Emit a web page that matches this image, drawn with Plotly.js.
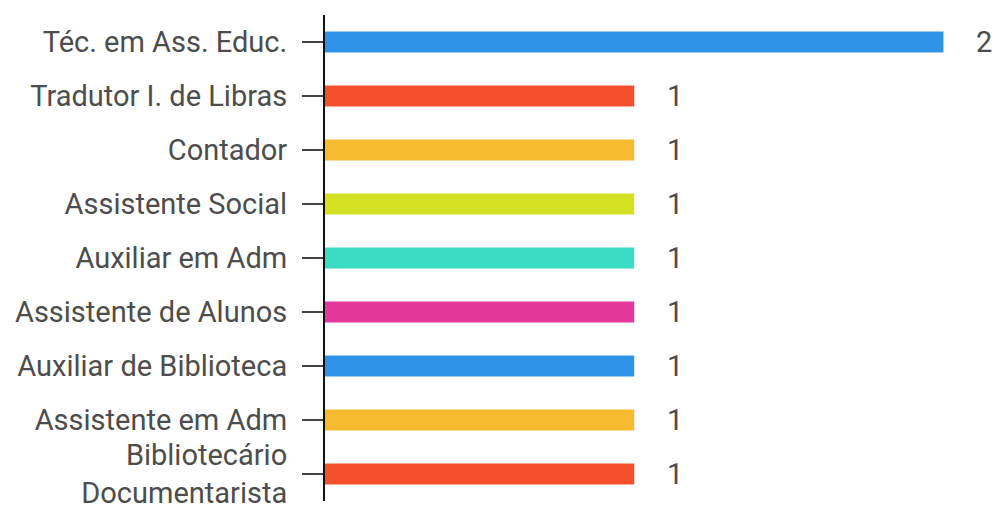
<!DOCTYPE html>
<html>
<head>
<meta charset="utf-8">
<script src="https://cdn.plot.ly/plotly-3.0.1.min.js"></script>
<style>html,body{margin:0;padding:0;background:#fff;}#chart{width:996px;height:509px;}</style>
</head>
<body>
<div id="chart"></div>
<script>
var categories = [
  "Téc. em Ass. Educ.",
  "Tradutor I. de Libras",
  "Contador",
  "Assistente Social",
  "Auxiliar em Adm",
  "Assistente de Alunos",
  "Auxiliar de Biblioteca",
  "Assistente em Adm",
  "Bibliotecário<br>Documentarista"
];
var values = [2, 1, 1, 1, 1, 1, 1, 1, 1];
var colors = ["#2f93e8", "#f5502c", "#f6ba2e", "#d4e022", "#3cdcc4", "#e4399a", "#2f93e8", "#f6ba2e", "#f5502c"];

var trace = {
  type: "bar",
  orientation: "h",
  y: categories,
  x: values,
  marker: {color: colors},
  hoverinfo: "none"
};

var annotations = categories.map(function(c, i) {
  return {
    x: values[i], y: c, xref: "x", yref: "y",
    text: String(values[i]), showarrow: false,
    xanchor: "left", xshift: 31,
    font: {family: "Roboto", size: 29, color: "#4d4d4d"}
  };
});

var layout = {
  width: 996, height: 509,
  margin: {l: 325, r: 0, t: 15, b: 8},
  paper_bgcolor: "#fff", plot_bgcolor: "#fff",
  bargap: 0.61,
  showlegend: false,
  font: {family: "Roboto", size: 29, color: "#4d4d4d"},
  xaxis: {range: [0, 2.17], visible: false, showgrid: false, zeroline: false, fixedrange: true},
  yaxis: {
    type: "category",
    categoryorder: "array", categoryarray: categories,
    autorange: "reversed",
    showline: true, linecolor: "#111", linewidth: 2,
    ticks: "outside", ticklen: 21, tickwidth: 2, tickcolor: "#444",
    ticklabelstandoff: 9,
    showgrid: false, zeroline: false,
    tickfont: {family: "Roboto", size: 29, color: "#4d4d4d"}
  },
  annotations: annotations
};

Plotly.newPlot("chart", [trace], layout, {displayModeBar: false, staticPlot: true});
</script>
</body>
</html>
